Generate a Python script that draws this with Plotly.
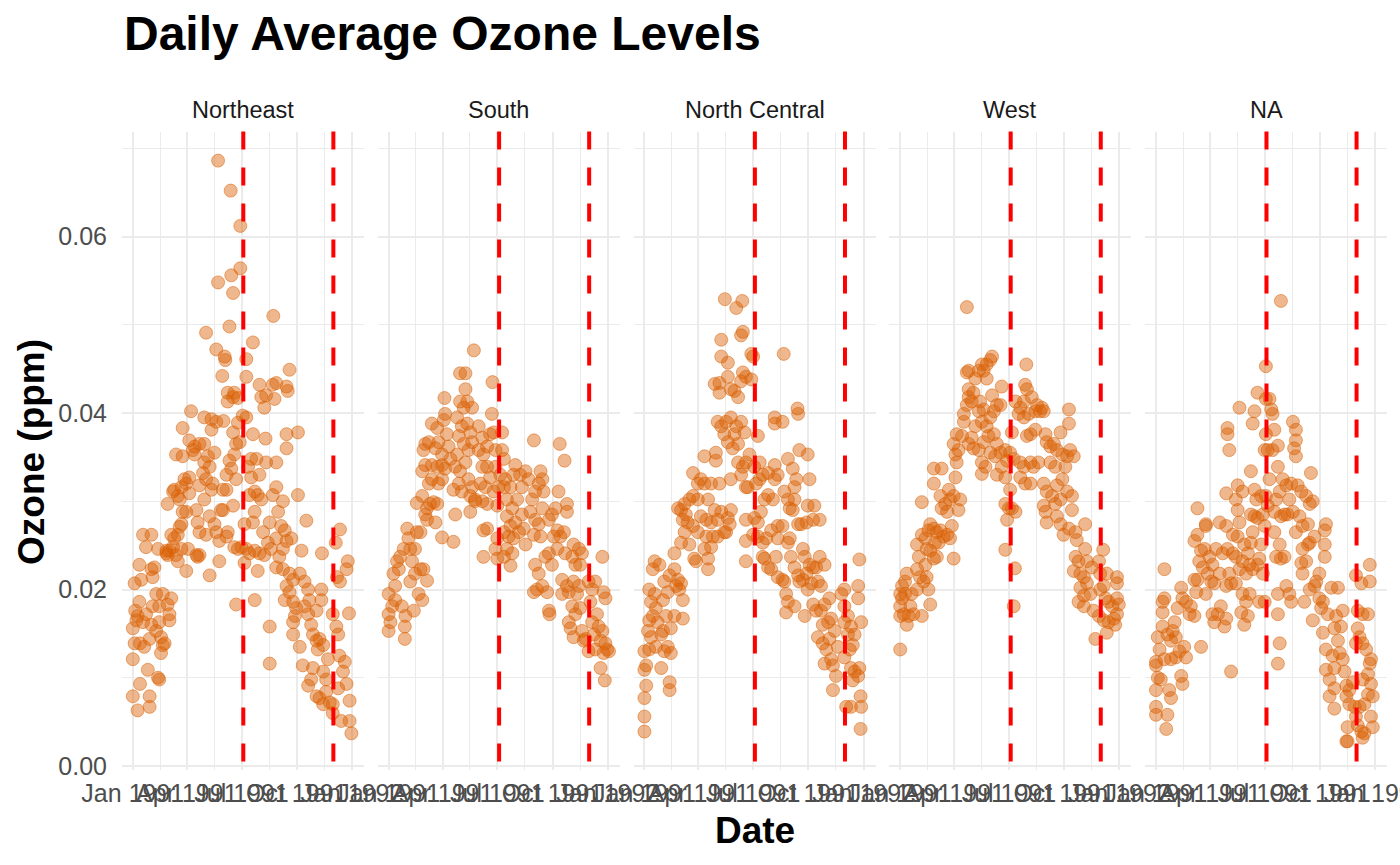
import pandas as pd
import plotly.graph_objects as go

regions = ["Northeast", "South", "North Central", "West", "NA"]

# day offset from 1991-01-01, ozone in units of 0.0001 ppm
ne_day = [0, 8, 0, 3, 0, 6, 4, 11, 3, 14, 11, 17, 12, 8, 17,
          28, 28, 12, 25, 44, 42, 31, 22, 31, 36, 33, 39, 33, 44, 22, 31, 39, 47, 50, 47, 53, 28, 19, 44, 50, 56, 42,
          58, 64, 61, 61, 56, 58, 61, 67, 69, 64, 75, 78, 89, 75, 72, 81, 92, 58, 67, 69, 75, 78, 81, 72, 83, 83, 97, 86, 89, 94, 94, 83, 89, 81,
          106, 111, 108, 128, 111, 122, 108, 128, 119, 106, 111, 117, 119, 128, 136, 125, 100, 103, 111, 119, 94, 103, 122, 131, 133, 131, 119, 139, 122, 139, 131, 139, 136, 144, 144, 147, 150,
          142, 163, 179, 179, 164, 142, 167, 161, 153, 154, 149, 158, 169, 158, 167, 175, 151, 175, 167, 172, 169, 161, 156, 164, 172, 156, 167, 150, 158, 156, 169, 181, 175, 172, 178, 183, 189,
          189, 189, 200, 186, 200, 189, 186, 203, 194, 211, 219, 208, 203, 200, 197, 206, 192, 197, 211, 203, 208, 214, 194, 203, 222, 221, 211, 214, 219, 222, 228, 228, 228, 225, 230, 217,
          234, 233, 239, 236, 256, 261, 258, 239, 256, 256, 275, 239, 233, 242, 250, 247, 253, 239, 256, 264, 250, 244, 239, 250, 261, 267, 281, 275, 289, 256, 261, 253, 267, 272, 270, 267, 267, 278, 278, 286,
          283, 292, 297, 300, 292, 297, 286, 294, 306, 300, 306, 311, 317, 308, 314, 314, 292, 315, 306, 311, 317, 322, 317, 325, 322, 339, 333,
          338, 345, 340, 345, 358, 356, 360, 342, 344, 353, 350, 356, 361, 347, 361, 364, 333, 328, 342, 333]
ne_o3 = [79, 63, 121, 139, 156, 165, 176, 186, 207, 211, 228, 262, 139, 170, 163,
         67, 79, 93, 109, 98, 100, 262, 248, 223, 225, 214, 195, 181, 181, 172, 160, 153, 146, 137, 128, 139, 144, 135, 163, 195, 244, 246,
         183, 190, 172, 165, 241, 239, 244, 248, 258, 262, 262, 271, 221, 232, 239, 246, 246, 297, 311, 313, 306, 302, 316, 353, 351, 383, 402, 325, 320, 327, 309, 288, 288, 274,
         239, 239, 237, 216, 265, 262, 276, 283, 302, 290, 318, 332, 344, 339, 355, 351, 358, 362, 365, 365, 369, 353, 325, 313, 320, 393, 395, 390, 491, 472, 381, 265, 274, 255, 232, 290, 313,
         686, 652, 612, 564, 556, 548, 536, 498, 464, 460, 442, 423, 423, 413, 418, 417, 391, 389, 378, 365, 353, 346, 330, 337, 325, 313, 295, 290, 265, 260, 248, 248, 246, 183, 367, 397, 395,
         461, 441, 480, 274, 276, 246, 230, 244, 241, 241, 239, 221, 188, 376, 348, 348, 339, 327, 330, 311, 307, 302, 307, 288, 344, 371, 432, 418, 406, 420, 158, 116, 276, 253, 246, 265,
         510, 432, 434, 416, 430, 449, 425, 344, 360, 376, 378, 316, 307, 288, 300, 272, 267, 258, 255, 258, 246, 237, 225, 223, 218, 211, 244, 307, 278, 204, 197, 188, 186, 179, 170, 163, 149, 135, 218, 209,
         114, 91, 98, 111, 172, 160, 181, 188, 176, 149, 142, 144, 137, 132, 188, 200, 200, 241, 79, 77, 70, 84, 107, 121, 98, 158, 172,
         253, 268, 214, 209, 232, 223, 173, 149, 125, 118, 107, 93, 74, 51, 51, 37, 70, 72, 88, 60]

s_day = [0, 0, 0, 6, 3, 11, 11, 8, 17, 14, 19, 22, 27, 27, 28, 42, 25, 31, 33, 36, 39, 36, 44, 50, 56, 53, 58, 64, 44, 47, 53, 64,
         47, 56, 64, 69, 75, 81, 61, 78, 89, 108, 72, 83, 89, 67, 56, 61, 72, 81, 89, 94, 58, 61, 67, 78, 83, 89, 72, 81, 92, 94, 93, 97, 100,
         103, 111, 108, 117, 122, 111, 119, 128, 142, 128, 119, 131, 139, 125, 114, 122, 131, 136, 117, 125, 133, 139, 114, 128, 119, 133, 139, 136, 144, 136, 144,
         150, 156, 150, 158, 164, 169, 175, 172, 173, 156, 164, 169, 153, 161, 156, 164, 175, 178, 178, 158, 164, 158, 181, 178, 181, 183, 181,
         189, 189, 192, 186, 194, 197, 192, 203, 208, 211, 219, 228, 222, 214, 206, 197, 203, 211, 222, 192, 200, 208, 197, 206, 203, 217, 225, 228, 192,
         233, 242, 239, 244, 250, 253, 256, 236, 244, 256, 258, 242, 250, 253, 244, 250, 247, 242, 256, 264, 267, 261, 272, 267, 268, 272, 278, 267, 283, 285, 293, 281, 275, 286, 281,
         292, 297, 297, 294, 306, 308, 311, 317, 322, 319, 289, 297, 308, 317, 289, 300, 314, 306, 311, 300, 303, 308, 322, 325, 319,
         333, 344, 339, 356, 358, 361, 336, 347, 339, 350, 356, 333, 344, 353, 361, 364, 367, 358, 353, 360, 328, 342]
s_o3 = [172, 153, 195, 181, 163, 204, 188, 218, 223, 232, 237, 181, 158, 144, 170, 176, 246, 269, 258, 246, 232, 209, 218, 195, 188, 223, 223, 210, 246, 265, 265, 279,
        298, 306, 292, 297, 299, 297, 285, 276, 259, 254, 325, 320, 325, 320, 334, 341, 341, 339, 341, 337, 358, 365, 367, 360, 367, 353, 388, 383, 392, 399, 417, 376, 362,
        348, 339, 313, 320, 311, 285, 445, 445, 471, 427, 413, 413, 406, 406, 395, 385, 388, 378, 374, 365, 358, 367, 353, 344, 334, 325, 316, 306, 302, 288, 300,
        385, 372, 358, 353, 362, 376, 378, 399, 435, 339, 339, 327, 320, 316, 300, 297, 311, 339, 358, 267, 269, 237, 258, 246, 235, 316, 295,
        378, 358, 348, 330, 325, 302, 316, 316, 330, 341, 330, 334, 316, 302, 292, 283, 272, 276, 285, 265, 260, 258, 246, 241, 227, 265, 269, 251, 237,
        325, 369, 302, 311, 320, 334, 325, 288, 279, 292, 311, 262, 274, 260, 228, 218, 200, 197, 204, 197, 241, 237, 228, 176, 172, 285, 292, 279, 311, 365, 346, 267, 260, 260, 246,
        265, 297, 288, 241, 237, 251, 228, 246, 241, 228, 211, 204, 209, 204, 195, 197, 195, 181, 172, 163, 156, 146, 153, 142, 179,
        209, 209, 200, 237, 197, 190, 186, 172, 163, 158, 153, 130, 132, 142, 139, 132, 130, 128, 111, 97, 144, 149]

nc_day = [0, 0, 0, 3, 0, 3, 0, 8, 6, 11, 8, 14, 11, 8, 17, 14, 17, 25, 19, 22, 28, 19, 28, 42, 42, 39, 44, 33, 31, 36, 31, 39, 33, 42, 50, 53, 61, 58, 64, 50, 64, 44, 56,
          50, 61, 67, 75, 83, 86, 106, 106, 64, 69, 61, 56, 67, 75, 81, 89, 72, 81, 89, 94, 89, 94, 100, 81, 100, 119, 119, 125, 111, 106, 117, 103, 111, 122, 114, 103, 122, 133, 111, 100,
          128, 139, 144, 142, 136, 144, 156, 164, 169, 161, 122, 128, 136, 133, 139, 150, 156, 147, 161, 167, 144, 153, 117, 125, 125, 139, 144, 156, 150, 161, 169, 178, 164, 139, 128, 128, 134, 153, 163, 161, 164, 178, 181, 175, 169, 172,
          189, 183, 192, 192, 186, 197, 206, 200, 206, 214, 217, 222, 217, 169, 169, 169, 181, 183, 189, 194, 189, 197, 203, 211, 222, 230, 222, 197, 200, 206, 211, 219, 222, 230, 233, 217, 217, 230, 232,
          239, 233, 242, 250, 247, 239, 247, 253, 250, 258, 272, 275, 255, 256, 242, 239, 244, 250, 256, 258, 264, 267, 275, 270, 264, 256, 261, 272, 283, 281, 270, 292, 236, 239, 250, 236, 267,
          281, 286, 292, 300, 289, 294, 278, 272, 281, 286, 294, 300, 308, 311, 306, 297, 289, 297, 303, 308, 317, 322, 311, 300, 314, 319, 314, 328,
          333, 333, 339, 344, 339, 350, 347, 342, 333, 344, 350, 356, 347, 358, 336, 344, 361, 360, 360, 361, 356, 356, 358, 333]
nc_o3 = [39, 56, 77, 91, 109, 114, 130, 132, 153, 146, 165, 170, 186, 200, 195, 223, 232, 228, 179, 163, 149, 135, 111, 95, 86, 135, 128, 130, 153, 170, 188, 197, 209, 216, 223, 204, 207, 200, 188, 170, 167, 156, 211,
         241, 253, 265, 251, 235, 232, 223, 235, 279, 285, 290, 292, 297, 302, 306, 302, 276, 272, 265, 283, 320, 325, 320, 332, 351, 355, 346, 320, 320, 302, 290, 279, 276, 279, 260, 260, 260, 265, 248, 246,
         288, 281, 290, 274, 265, 325, 344, 339, 316, 330, 390, 385, 390, 376, 367, 376, 365, 360, 390, 378, 395, 385, 433, 434, 423, 441, 427, 418, 425, 436, 441, 438, 446, 457, 464, 483, 529, 519, 527, 488, 492, 467, 464, 353, 344, 316,
         374, 339, 344, 325, 320, 330, 332, 302, 307, 302, 325, 330, 341, 279, 255, 232, 262, 281, 276, 288, 260, 253, 258, 267, 272, 272, 258, 237, 235, 225, 223, 237, 214, 211, 209, 395, 388, 390, 467,
         302, 311, 292, 302, 290, 348, 337, 325, 316, 358, 353, 325, 405, 399, 258, 253, 237, 225, 216, 209, 246, 237, 228, 218, 211, 274, 274, 295, 295, 279, 276, 279, 195, 186, 181, 174, 170,
         225, 225, 237, 228, 209, 204, 207, 200, 183, 176, 176, 183, 190, 167, 163, 160, 146, 139, 132, 144, 153, 135, 121, 116, 114, 102, 86, 195,
         200, 181, 170, 158, 149, 149, 137, 132, 123, 111, 107, 102, 97, 111, 67, 67, 67, 79, 42, 163, 190, 204, 234, 163]

w_day = [0, 0, 0, 3, 0, 3, 8, 6, 11, 14, 17, 19, 11, 8, 22, 28, 33, 36, 28, 39, 44, 47, 50, 31, 28, 36, 42, 44, 50, 42, 56, 61, 50, 47, 56, 61, 67, 72, 78, 83, 86, 36, 58, 89, 64,
         56, 56, 69, 67, 69, 75, 78, 83, 81, 89, 100, 97, 92, 94, 92, 97, 89, 94, 103, 106, 106, 111, 114, 114, 119, 122, 111, 114, 111, 125, 131,
         136, 139, 144, 150, 153, 144, 153, 133, 131, 139, 125, 136, 144, 150, 156, 161, 167, 169, 119, 114, 122, 131, 139, 147, 156, 161, 136, 142, 136, 150, 158, 161, 169, 167, 175,
         178, 183, 189, 175, 183, 186, 175, 181, 192, 178, 175, 191, 189, 186, 192, 200, 206, 211, 210, 208, 219, 228, 225, 214, 206, 197, 217, 225, 211, 200, 206, 200, 208, 217, 222, 217, 230, 233,
         236, 239, 242, 244, 250, 256, 261, 267, 281, 281, 270, 278, 283, 289, 275, 258, 250, 239, 244, 253, 261, 270, 278, 267, 258, 239, 242, 244, 261, 267, 272, 286, 286, 281, 292, 294, 308,
         292, 297, 289, 300, 308, 311, 306, 311, 300, 306, 297, 306, 317, 322, 325, 319,
         331, 338, 333, 339, 344, 342, 347, 353, 361, 361, 364, 361, 356, 347, 339, 344, 331, 333, 358, 361]
w_o3 = [132, 170, 181, 190, 195, 204, 209, 172, 160, 170, 181, 195, 218, 195, 172, 223, 214, 170, 200, 209, 214, 200, 183, 237, 251, 262, 258, 246, 244, 228, 235, 237, 274, 267, 269, 265, 267, 260, 262, 258, 272, 299, 253, 235, 253,
        320, 337, 337, 306, 292, 297, 288, 302, 313, 306, 302, 290, 327, 344, 353, 358, 365, 376, 374, 390, 399, 409, 418, 427, 413, 423, 446, 448, 520, 439, 448,
        455, 448, 455, 460, 464, 439, 420, 413, 402, 404, 385, 390, 385, 395, 402, 409, 409, 430, 372, 365, 360, 358, 367, 374, 376, 365, 344, 339, 331, 355, 351, 330, 339, 355, 358,
        346, 355, 348, 327, 313, 292, 297, 292, 288, 279, 245, 224, 181, 378, 413, 406, 413, 427, 455, 432, 418, 409, 402, 399, 395, 399, 376, 381, 374, 344, 339, 327, 320, 344, 339, 320, 344, 402,
        406, 402, 376, 367, 362, 365, 358, 378, 404, 388, 353, 351, 358, 351, 339, 339, 344, 320, 311, 306, 318, 325, 311, 302, 297, 295, 288, 276, 283, 274, 262, 306, 290, 269, 265, 256, 274,
        237, 232, 221, 218, 246, 232, 214, 207, 202, 193, 186, 181, 195, 176, 144, 225,
        232, 245, 218, 204, 218, 190, 186, 181, 214, 207, 183, 172, 167, 163, 165, 151, 170, 200, 160, 190]

na_day = [0, 0, 17, 19, 0, 3, 0, 0, 8, 22, 25, 6, 3, 11, 14, 11, 11, 14, 14, 19, 25, 28, 31, 33, 25, 33, 39, 44, 42, 47, 50, 36, 44, 42, 50, 56, 64, 75, 58, 67, 69, 64, 64, 69, 72, 75, 78, 81, 83, 89, 94, 86, 92, 97, 83, 94, 103, 108, 117, 114, 97, 106, 69, 100,
          106, 83, 111, 119, 128, 122, 125, 133, 139, 144, 133, 125, 117, 117, 128, 136, 136, 139, 117, 136, 144, 133, 119, 119, 122, 139, 147, 144, 150, 147, 142, 153, 156,
          156, 153, 158, 161, 158, 164, 169, 167, 164, 175, 150, 161, 169, 172, 175, 181, 178, 183, 158, 169, 164, 161, 172, 181, 178, 183, 183, 183, 181, 186, 189, 186, 189,
          192, 194, 197, 203, 194, 208, 203, 211, 206, 200, 197, 208, 214, 197, 206, 200, 208, 214, 203, 217, 203, 206, 203, 222, 225, 219, 228, 225, 217, 222, 228, 233, 233, 233, 230,
          236, 242, 250, 256, 258, 261, 233, 244, 239, 253, 264, 256, 253, 244, 250, 242, 281, 281, 283, 281, 272, 267, 264, 256, 247, 272, 278, 275, 286, 261, 278, 244,
          292, 303, 311, 300, 308, 297, 303, 283, 294, 306, 311, 297, 283, 289, 297, 289, 297, 314, 317, 322, 317, 322, 319, 319, 317,
          331, 333, 339, 336, 342, 347, 344, 361, 358, 347, 353, 361, 358, 353, 356, 358, 350, 344, 339, 333, 336, 344, 353, 336, 342, 356, 356, 333, 328, 344]
na_o3 = [67, 58, 42, 58, 86, 100, 114, 118, 98, 86, 77, 132, 146, 158, 121, 174, 186, 190, 223, 149, 142, 153, 163, 146, 121, 123, 130, 93, 102, 135, 123, 179, 190, 202, 186, 172, 170, 135, 181, 197, 211, 211, 255, 262, 232, 244, 225, 246, 272, 237, 228, 218, 209, 207, 195, 172, 172, 181, 167, 158, 163, 218, 292, 246,
         276, 274, 241, 246, 241, 218, 207, 207, 223, 232, 237, 107, 204, 272, 262, 260, 290, 276, 309, 318, 311, 302, 383, 376, 358, 406, 251, 195, 186, 160, 174, 170, 195,
         228, 241, 253, 265, 285, 283, 281, 302, 313, 306, 218, 223, 228, 235, 251, 272, 285, 306, 334, 423, 402, 388, 186, 186, 218, 453, 416, 376, 358, 358, 325, 295, 416,
         404, 399, 381, 363, 358, 527, 339, 325, 311, 302, 288, 283, 285, 265, 251, 237, 235, 237, 195, 204, 172, 139, 116, 195, 186, 285, 288, 320, 318, 302, 390, 381, 369, 351, 360,
         318, 311, 306, 297, 332, 300, 265, 272, 283, 274, 260, 253, 251, 246, 232, 230, 237, 251, 274, 267, 218, 209, 204, 200, 186, 190, 186, 179, 172, 165, 151, 218,
         202, 202, 176, 170, 158, 156, 142, 132, 125, 128, 121, 111, 109, 98, 88, 79, 65, 107, 91, 86, 79, 70, 44, 28, 28,
         67, 56, 67, 46, 39, 37, 32, 44, 56, 70, 81, 79, 93, 104, 116, 121, 132, 139, 146, 139, 156, 172, 172, 176, 207, 209, 228, 216, 95, 98]

event_dates = ["1991-07-04", "1991-12-01"]
x_tickvals = ["1991-01-01", "1991-04-01", "1991-07-01", "1991-10-01", "1992-01-01"]
x_ticktext = ["Jan 1991", "Apr 1991", "Jul 1991", "Oct 1991", "Jan 1992"]
x_minor = ["1991-02-15 12:00", "1991-05-16 12:00", "1991-08-16", "1991-11-16"]
y_tickvals = [0.0, 0.02, 0.04, 0.06]
y_ticktext = ["0.00", "0.02", "0.04", "0.06"]
y_minor = [0.01, 0.03, 0.05, 0.07]

W, H = 1400, 865
FONT = "Liberation Sans, Arial, sans-serif"
GRID = "#EBEBEB"
start = pd.Timestamp("1991-01-01")

series = [(ne_day, ne_o3), (s_day, s_o3), (nc_day, nc_o3), (w_day, w_o3), (na_day, na_o3)]

fig = go.Figure()
layout = {}
for i, (days, vals) in enumerate(series):
    suffix = "" if i == 0 else str(i + 1)
    fig.add_trace(go.Scatter(
        x=start + pd.to_timedelta(days, unit="D"),
        y=[v / 10000 for v in vals],
        xaxis="x" + suffix, yaxis="y",
        mode="markers", showlegend=False, hoverinfo="skip",
        marker=dict(size=13, color="rgba(217,95,2,0.45)",
                    line=dict(color="rgba(217,95,2,0.5)", width=1)),
    ))
    left = (122 + 255.8 * i) / W
    layout["xaxis" + suffix] = dict(
        domain=[left, left + 242 / W], anchor="y", type="date", automargin=False,
        range=["1990-12-14", "1992-01-21"],
        tickmode="array", tickvals=x_tickvals, ticktext=x_ticktext, tickangle=0,
        ticks="", ticklabelstandoff=6, ticklabeloverflow="allow",
        tickfont=dict(family=FONT, size=25, color="#4D4D4D"),
        showgrid=True, gridcolor=GRID, gridwidth=2,
        minor=dict(tickvals=x_minor, showgrid=True, gridcolor=GRID, gridwidth=1, ticks=""),
        zeroline=False, showline=False,
    )
    for d in event_dates:
        fig.add_shape(type="line", xref="x" + suffix, yref="y domain",
                      x0=d, x1=d, y0=1, y1=0,
                      line=dict(color="#FF0000", width=4, dash="18px,18px"))
    fig.add_annotation(text=regions[i], xref="paper", yref="paper",
                       x=left + 121 / W, y=1 - 110 / H, showarrow=False,
                       xanchor="center", yanchor="middle",
                       font=dict(family=FONT, size=23.5, color="#1A1A1A"))

layout["yaxis"] = dict(
    domain=[(H - 770.4) / H, (H - 131.5) / H], anchor="x", automargin=False,
    range=[-0.0005, 0.0719],
    tickmode="array", tickvals=y_tickvals, ticktext=y_ticktext,
    ticks="", ticklabelstandoff=14,
    tickfont=dict(family=FONT, size=25, color="#4D4D4D"),
    showgrid=True, gridcolor=GRID, gridwidth=2,
    minor=dict(tickvals=y_minor, showgrid=True, gridcolor=GRID, gridwidth=1, ticks=""),
    zeroline=False, showline=False,
)

fig.update_layout(
    width=W, height=H,
    margin=dict(l=0, r=0, t=0, b=0, autoexpand=False),
    paper_bgcolor="white", plot_bgcolor="white",
    **layout,
)

fig.add_annotation(text="<b>Daily Average Ozone Levels</b>", xref="paper", yref="paper",
                   x=122 / W, y=1 - 33 / H, xanchor="left", yanchor="middle", showarrow=False,
                   font=dict(family=FONT, size=48, color="black"))
fig.add_annotation(text="<b>Date</b>", xref="paper", yref="paper",
                   x=755 / W, y=1 - 830 / H, xanchor="center", yanchor="middle", showarrow=False,
                   font=dict(family=FONT, size=37, color="black"))
fig.add_annotation(text="<b>Ozone (ppm)</b>", xref="paper", yref="paper",
                   x=32 / W, y=1 - 452 / H, xanchor="center", yanchor="middle", showarrow=False,
                   textangle=-90, font=dict(family=FONT, size=37, color="black"))

# page body has a default margin; drop it so the figure sits at the window corner
fig.write_html("out.html", config={"displayModeBar": False},
               post_script="document.body.style.margin = '0';")
